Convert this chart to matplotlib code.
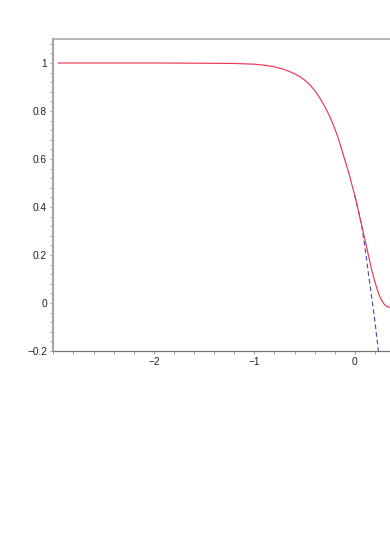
import numpy as np
import matplotlib
matplotlib.use('Agg')
import matplotlib.pyplot as plt
from matplotlib.ticker import MultipleLocator, FuncFormatter

plt.rcParams['font.family'] = ['Liberation Sans', 'DejaVu Sans']

# values
x_red = [-2.95, -2.0, -1.5, -1.2, -1.0, -0.9, -0.8, -0.72, -0.647, -0.6, -0.547, -0.5,
         -0.448, -0.4, -0.348, -0.3, -0.249, -0.2, -0.166, -0.133, -0.1, -0.05, -0.023,
         0.0, 0.017, 0.04, 0.067, 0.09, 0.116, 0.14, 0.166, 0.19, 0.216, 0.24,
         0.266, 0.29, 0.315, 0.348, 0.38, 0.42]
y_red = [1.0, 1.0, 0.999, 0.998, 0.995, 0.991, 0.984, 0.975, 0.964, 0.955, 0.943, 0.929,
         0.909, 0.886, 0.854, 0.819, 0.777, 0.727, 0.688, 0.643, 0.597, 0.527, 0.483,
         0.447, 0.417, 0.375, 0.325, 0.283, 0.236, 0.19, 0.141, 0.102, 0.066, 0.035,
         0.012, -0.004, -0.014, -0.018, -0.018, -0.014]

x_blue = [0.0, 0.04, 0.067, 0.1, 0.133, 0.166, 0.199, 0.232, 0.235]
y_blue = [0.447, 0.375, 0.325, 0.235, 0.13, 0.03, -0.075, -0.19, -0.2]

x_ticks = [-2, -1, 0]
y_ticks = [-0.2, 0, 0.2, 0.4, 0.6, 0.8, 1]

fig = plt.figure(figsize=(3.9, 5.4), dpi=100)
ax = fig.add_axes([0.1367, 0.35, 0.902, 0.5778])

ax.plot(x_blue, y_blue, color='#5050b8', lw=0.85, ls=(0, (4, 2.5)))
ax.plot(x_red, y_red, color='#e83a55', lw=0.85)

ax.set_xlim(-3.0, 0.5)
ax.set_ylim(-0.2, 1.1)
ax.set_xticks(x_ticks)
ax.set_yticks(y_ticks)
ax.xaxis.set_minor_locator(MultipleLocator(0.2))
ax.yaxis.set_minor_locator(MultipleLocator(0.04))

def fmt(v, pos):
    s = ('%g' % v).replace('-', '\u2212')
    return '0' if s == '\u22120' else s

ax.xaxis.set_major_formatter(FuncFormatter(fmt))
ax.yaxis.set_major_formatter(FuncFormatter(fmt))

ax.tick_params(which='both', direction='out', length=2.5, width=0.6, color='#909090',
               labelsize=7.3, labelcolor='#222222', pad=2)
ax.tick_params(which='minor', length=2)

ax.spines['right'].set_visible(False)
ax.spines['left'].set_color('#a8a8a8')
ax.spines['left'].set_linewidth(1.6)
ax.spines['top'].set_color('#b0b0b0')
ax.spines['top'].set_linewidth(1.3)
ax.spines['bottom'].set_color('#777777')
ax.spines['bottom'].set_linewidth(0.9)

fig.savefig('out.png', dpi=100)
